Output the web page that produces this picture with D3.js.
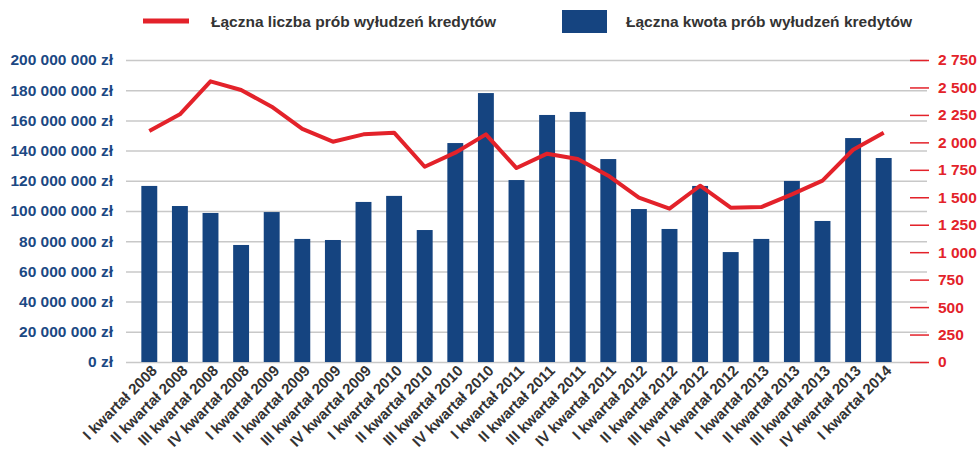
<!DOCTYPE html>
<html>
<head>
<meta charset="utf-8">
<script src="https://cdn.jsdelivr.net/npm/d3@7"></script>
<style>
  body { margin: 0; background: #fff; }
  text { font-family: "Liberation Sans", Arial, sans-serif; font-weight: bold; }
</style>
</head>
<body>
<svg id="chart" width="980" height="452"></svg>
<script>
var quarters = ["I kwartał 2008", "II kwartał 2008", "III kwartał 2008", "IV kwartał 2008",
  "I kwartał 2009", "II kwartał 2009", "III kwartał 2009", "IV kwartał 2009",
  "I kwartał 2010", "II kwartał 2010", "III kwartał 2010", "IV kwartał 2010",
  "I kwartał 2011", "II kwartał 2011", "III kwartał 2011", "IV kwartał 2011",
  "I kwartał 2012", "II kwartał 2012", "III kwartał 2012", "IV kwartał 2012",
  "I kwartał 2013", "II kwartał 2013", "III kwartał 2013", "IV kwartał 2013",
  "I kwartał 2014"];

// łączna kwota (zł)
var amounts = [116600000, 103300000, 98700000, 77500000, 99300000, 81500000, 80800000, 106000000,
  110000000, 87400000, 145000000, 178100000, 120500000, 163600000, 165600000, 134400000,
  101300000, 88100000, 116600000, 72800000, 81500000, 119900000, 93400000, 148300000, 135100000];

// łączna liczba prób
var counts = [2103, 2255, 2556, 2477, 2325, 2122, 2006, 2073, 2088, 1778, 1906, 2073, 1766,
  1897, 1849, 1697, 1496, 1396, 1605, 1405, 1411, 1527, 1651, 1933, 2088];

var leftTicks = [0, 20000000, 40000000, 60000000, 80000000, 100000000, 120000000,
  140000000, 160000000, 180000000, 200000000];
var rightTicks = [0, 250, 500, 750, 1000, 1250, 1500, 1750, 2000, 2250, 2500, 2750];

var legendLabels = ["Łączna liczba prób wyłudzeń kredytów", "Łączna kwota prób wyłudzeń kredytów"];

var blue = "#154480", red = "#e3222a", grid = "#c8c8c8";
var plot = {left: 134, right: 899, top: 60, bottom: 362};

var svg = d3.select("#chart");

var x = d3.scaleBand()
  .domain(quarters)
  .range([plot.left, plot.right])
  .paddingInner(0.48)
  .paddingOuter(0.24);
var yLeft = d3.scaleLinear().domain([0, 200000000]).range([plot.bottom, plot.top]);
var yRight = d3.scaleLinear().domain([0, 2750]).range([plot.bottom, plot.top]);

var fmt = d3.formatLocale({decimal: ",", thousands: " ", grouping: [3], currency: ["", ""]}).format(",d");

// gridlines + left axis
var gLeft = svg.append("g")
  .attr("transform", "translate(126,0)")
  .call(d3.axisLeft(yLeft).tickValues(leftTicks).tickSize(-801).tickPadding(13)
    .tickFormat(function(d) { return fmt(d) + " zł"; }));
gLeft.select(".domain").remove();
gLeft.selectAll("line").attr("stroke", grid).attr("stroke-width", 1.5);
gLeft.selectAll("text").attr("fill", "#1b4883").style("font-size", "15.5px");

// bars
svg.append("g").selectAll("rect")
  .data(amounts)
  .enter()
  .append("rect")
    .attr("x", function(d, i) { return x(quarters[i]); })
    .attr("y", function(d) { return yLeft(d); })
    .attr("width", x.bandwidth())
    .attr("height", function(d) { return yLeft(0) - yLeft(d); })
    .attr("fill", blue);

// line
var line = d3.line()
  .x(function(d, i) { return x(quarters[i]) + x.bandwidth() / 2; })
  .y(function(d) { return yRight(d); });
svg.append("path")
  .datum(counts)
  .attr("d", line)
  .attr("fill", "none")
  .attr("stroke", red)
  .attr("stroke-width", 4)
  .attr("stroke-linejoin", "round");

// right axis
var gRight = svg.append("g")
  .attr("transform", "translate(910,0)")
  .call(d3.axisRight(yRight).tickValues(rightTicks).tickSize(19).tickPadding(9)
    .tickFormat(function(d) { return fmt(d); }));
gRight.select(".domain").remove();
gRight.selectAll("line").attr("stroke", red).attr("stroke-width", 1.5);
gRight.selectAll("text").attr("fill", red).style("font-size", "15.5px");

// x labels
svg.append("g").selectAll("text")
  .data(quarters)
  .enter()
  .append("text")
    .attr("transform", function(d) {
      return "translate(" + (x(d) + x.bandwidth() / 2 + 5) + ",368) rotate(-45)";
    })
    .attr("text-anchor", "end")
    .attr("dy", "0.35em")
    .attr("fill", "#333")
    .style("font-size", "15px")
    .text(function(d) { return d; });

// legend
var legend = svg.append("g");
legend.append("line")
  .attr("x1", 143).attr("x2", 189).attr("y1", 21).attr("y2", 21)
  .attr("stroke", red).attr("stroke-width", 5);
legend.append("text")
  .attr("x", 211).attr("y", 27)
  .attr("fill", "#333").style("font-size", "15.5px")
  .text(legendLabels[0]);
legend.append("rect")
  .attr("x", 562).attr("y", 10).attr("width", 45).attr("height", 23)
  .attr("fill", blue);
legend.append("text")
  .attr("x", 626).attr("y", 27)
  .attr("fill", "#333").style("font-size", "15.5px")
  .text(legendLabels[1]);
</script>
</body>
</html>
